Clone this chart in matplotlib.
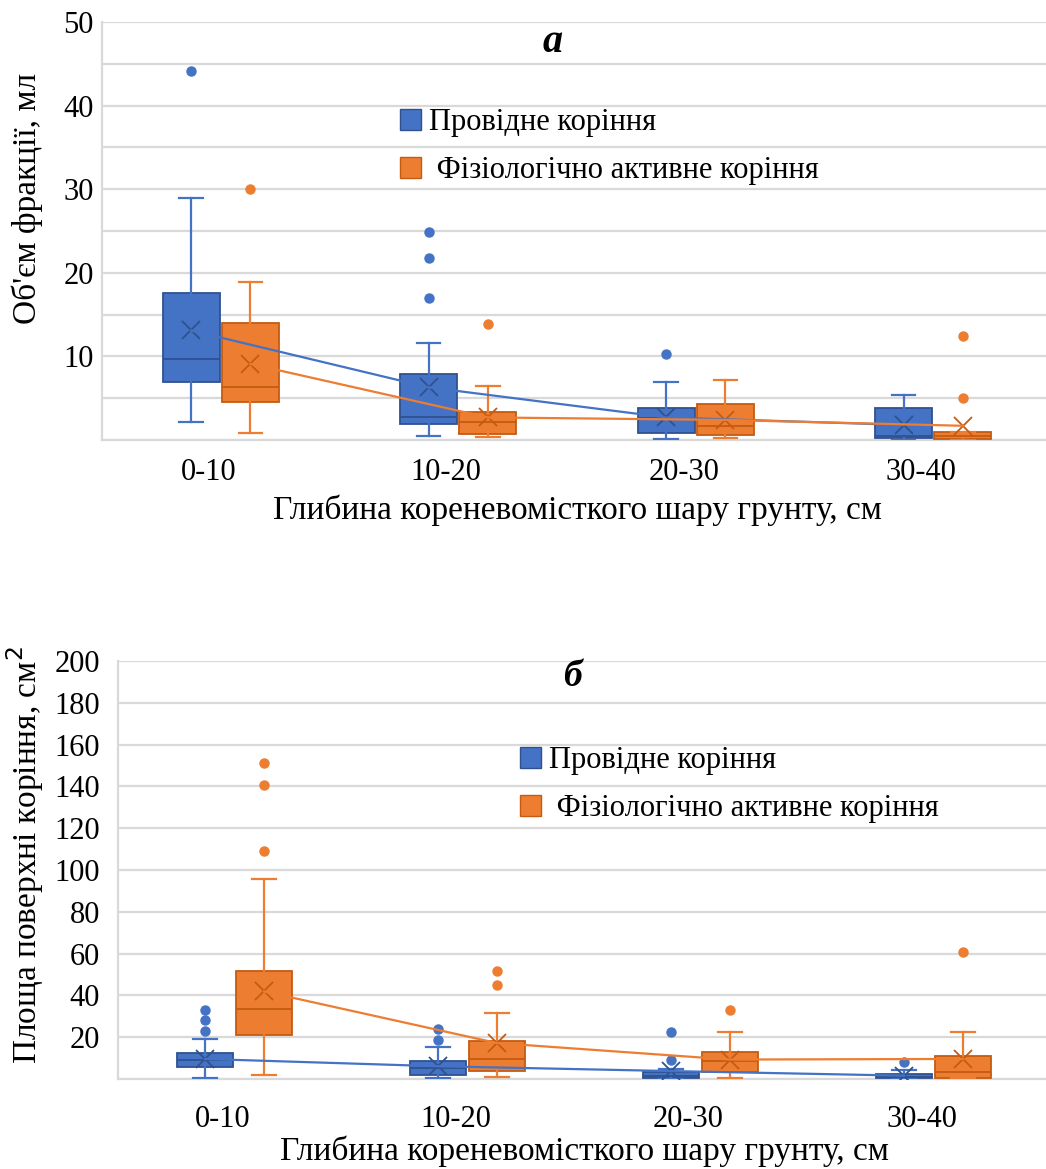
import matplotlib
matplotlib.use("Agg")
import matplotlib.pyplot as plt
import matplotlib.transforms as mtransforms
from matplotlib.patches import Patch
from matplotlib.ticker import MultipleLocator, NullFormatter

plt.rcParams['font.family'] = ['Liberation Serif', 'DejaVu Serif']

depths = ["0-10", "10-20", "20-30", "30-40"]
series_names = ["Провідне коріння", " Фізіологічно активне коріння"]

# (а) volume of fraction, ml -- five-number summaries per depth layer
vol_cond_whislo = [2.1, 0.5, 0.1, 0.0]
vol_cond_q1 = [6.9, 1.9, 0.8, 0.2]
vol_cond_med = [9.7, 2.8, 2.6, 0.5]
vol_cond_q3 = [17.6, 7.9, 3.8, 3.8]
vol_cond_whishi = [29.0, 11.6, 6.9, 5.4]
vol_cond_mean = [13.1, 6.3, 2.7, 1.8]
vol_cond_fliers = [[44.1], [24.9, 21.8, 17.0], [10.3], []]

vol_act_whislo = [0.8, 0.3, 0.2, 0.0]
vol_act_q1 = [4.5, 0.7, 0.6, 0.1]
vol_act_med = [6.3, 2.1, 1.7, 0.5]
vol_act_q3 = [14.0, 3.3, 4.3, 0.9]
vol_act_whishi = [18.9, 6.4, 7.2, 0.9]
vol_act_mean = [9.1, 2.7, 2.4, 1.7]
vol_act_fliers = [[30.0], [13.9], [], [12.4, 5.0]]

# (б) root surface area, cm2
area_cond_whislo = [0.5, 0.5, 0.0, 0.0]
area_cond_q1 = [5.6, 1.8, 0.3, 0.3]
area_cond_med = [8.9, 5.3, 1.6, 1.0]
area_cond_q3 = [12.4, 8.4, 3.5, 2.4]
area_cond_whishi = [19.1, 15.3, 4.8, 4.3]
area_cond_mean = [9.6, 6.1, 3.8, 1.6]
area_cond_fliers = [[32.8, 28.0, 23.1], [24.1, 18.5], [22.4, 9.1], [8.3]]

area_act_whislo = [1.8, 0.8, 0.3, 0.3]
area_act_q1 = [20.9, 3.7, 3.2, 0.5]
area_act_med = [33.5, 9.7, 8.8, 3.5]
area_act_q3 = [51.8, 18.0, 13.1, 11.2]
area_act_whishi = [95.6, 31.6, 22.4, 22.4]
area_act_mean = [41.9, 17.2, 9.3, 9.6]
area_act_fliers = [[151.0, 140.7, 109.2], [51.5, 44.8], [33.1], [61.0]]

BLUE = "#4472C4"
BLUE_DARK = "#2F528F"
ORANGE = "#ED7D31"
ORANGE_DARK = "#C55A11"
GRID = "#D9D9D9"


def make_stats(whislo, q1, med, q3, whishi, mean, fliers):
    return [dict(whislo=a, q1=b, med=c, q3=d, whishi=e, mean=m, fliers=f)
            for a, b, c, d, e, m, f in zip(whislo, q1, med, q3, whishi, mean, fliers)]


def draw_group(ax, stats, offset, face, dark):
    pos = [i + offset for i in range(len(stats))]
    ax.bxp(stats, positions=pos, widths=0.24, patch_artist=True,
           showmeans=True, meanline=False,
           boxprops=dict(facecolor=face, edgecolor=dark, linewidth=1.3),
           medianprops=dict(color=dark, linewidth=1.3),
           whiskerprops=dict(color=face, linewidth=1.6),
           capprops=dict(color=face, linewidth=1.6),
           capwidths=0.1,
           meanprops=dict(marker="x", markeredgecolor=dark,
                          markersize=13, markeredgewidth=1.3),
           flierprops=dict(marker="o", markerfacecolor=face,
                           markeredgecolor=face, markersize=6.5),
           zorder=3)
    ax.plot(pos, [s["mean"] for s in stats], color=face, lw=1.6, zorder=4)


def style_axes(ax, ymax, major, minor, xpad, ypad, labelpad):
    ax.set_xlim(-0.5, 3.5)
    ax.set_ylim(0, ymax)
    ax.yaxis.set_major_locator(MultipleLocator(major))
    ax.yaxis.set_minor_locator(MultipleLocator(minor))
    ax.yaxis.set_minor_formatter(NullFormatter())
    ax.grid(True, which="both", axis="y", color=GRID, lw=1.6, zorder=0)
    ax.set_axisbelow(True)
    for side in ("top", "right"):
        ax.spines[side].set_visible(False)
    for side in ("left", "bottom"):
        ax.spines[side].set_color(GRID)
        ax.spines[side].set_linewidth(1.6)
    ax.tick_params(axis="both", which="both", length=0, labelsize=22)
    ax.tick_params(axis="x", pad=xpad)
    ax.tick_params(axis="y", pad=ypad)
    ax.set_xticks(range(len(depths)))
    ax.set_xticklabels(depths)
    shift = mtransforms.ScaledTranslation(-12 / 100, 0, ax.figure.dpi_scale_trans)
    for lbl in ax.get_xticklabels():
        lbl.set_transform(lbl.get_transform() + shift)
    ticks = [t for t in ax.get_yticks() if 0 < t <= ymax]
    ax.set_yticks(ticks)
    ax.set_xlabel("Глибина кореневомісткого шару грунту, см", fontsize=24,
                  labelpad=labelpad)


def add_legend(ax, x, y):
    ax.legend(handles=[Patch(facecolor=BLUE, edgecolor=BLUE_DARK),
                       Patch(facecolor=ORANGE, edgecolor=ORANGE_DARK)],
              labels=series_names, loc="upper left", bbox_to_anchor=(x, y),
              frameon=False, fontsize=22, handlelength=0.7, handleheight=0.7,
              handletextpad=0.25, labelspacing=0.62, borderaxespad=0, borderpad=0)


fig = plt.figure(figsize=(10.46, 11.69), dpi=100)
W, H = 1046, 1169

ax_a = fig.add_axes([102 / W, (H - 440) / H, 950 / W, 418 / H])
draw_group(ax_a, make_stats(vol_cond_whislo, vol_cond_q1, vol_cond_med, vol_cond_q3,
                            vol_cond_whishi, vol_cond_mean, vol_cond_fliers),
           -0.125, BLUE, BLUE_DARK)
draw_group(ax_a, make_stats(vol_act_whislo, vol_act_q1, vol_act_med, vol_act_q3,
                            vol_act_whishi, vol_act_mean, vol_act_fliers),
           0.125, ORANGE, ORANGE_DARK)
style_axes(ax_a, 50, 10, 5, xpad=13, ypad=6, labelpad=5)
ax_a.set_ylabel("Об'єм фракції, мл", fontsize=24)
ax_a.yaxis.set_label_coords(-59 / 950, (440 - 198) / 418)
ax_a.text((553 - 102) / 950, (440 - 43) / 418, "а", transform=ax_a.transAxes,
          fontsize=29, fontweight="bold", fontstyle="italic", ha="center", va="center")
add_legend(ax_a, (400 - 102) / 950, (440 - 108) / 418)

ax_b = fig.add_axes([118 / W, (H - 1079) / H, 932 / W, 418 / H])
draw_group(ax_b, make_stats(area_cond_whislo, area_cond_q1, area_cond_med, area_cond_q3,
                            area_cond_whishi, area_cond_mean, area_cond_fliers),
           -0.127, BLUE, BLUE_DARK)
draw_group(ax_b, make_stats(area_act_whislo, area_act_q1, area_act_med, area_act_q3,
                            area_act_whishi, area_act_mean, area_act_fliers),
           0.127, ORANGE, ORANGE_DARK)
style_axes(ax_b, 200, 20, 20, xpad=19, ypad=13, labelpad=1)
ax_b.set_ylabel("Площа поверхні коріння, см$^2$", fontsize=24)
ax_b.yaxis.set_label_coords(-72 / 932, (1079 - 855) / 418)
ax_b.text((572 - 118) / 932, (1079 - 677) / 418, "б", transform=ax_b.transAxes,
          fontsize=27, fontweight="bold", fontstyle="italic", ha="center", va="center")
add_legend(ax_b, (520 - 118) / 932, (1079 - 746) / 418)

fig.savefig("out.png", dpi=100)
